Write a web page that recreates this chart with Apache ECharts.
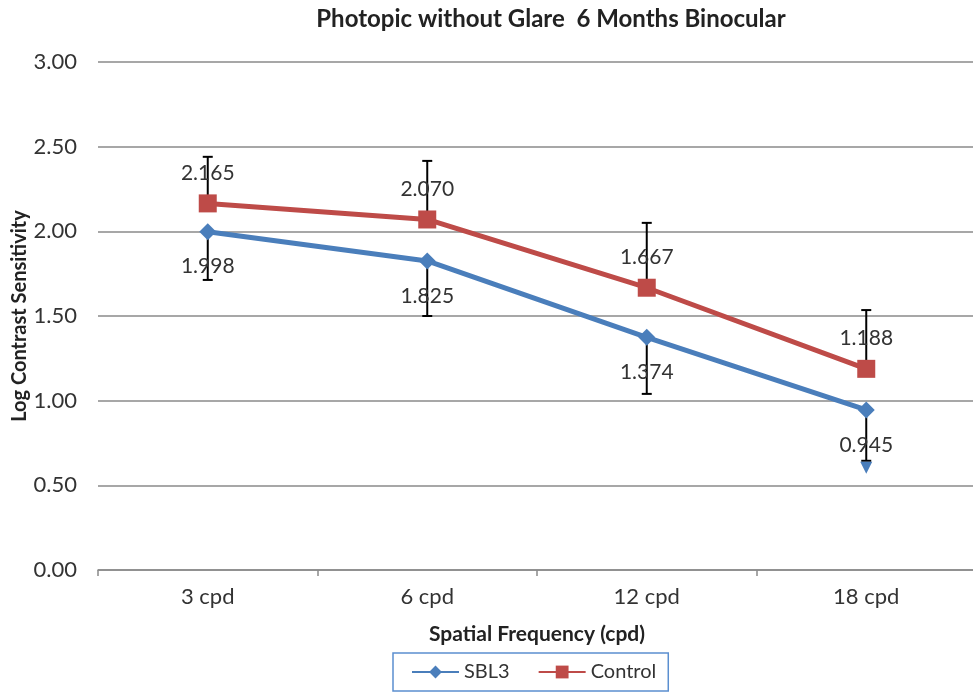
<!DOCTYPE html>
<html>
<head>
<meta charset="utf-8">
<script src="https://cdn.jsdelivr.net/npm/echarts@6/dist/echarts.min.js"></script>
<style>
html,body{margin:0;padding:0;background:#fff;}
#chart{width:973px;height:694px;}
</style>
</head>
<body>
<div id="chart"></div>
<script>
var categories = ['3 cpd', '6 cpd', '12 cpd', '18 cpd'];
var sbl3Values = [1.998, 1.825, 1.374, 0.945];
var controlValues = [2.165, 2.070, 1.667, 1.188];
var sbl3Lower = [1.713, 1.50, 1.04, 0.645];
var controlUpper = [2.44, 2.416, 2.05, 1.535];
var yTicks = [0, 0.5, 1, 1.5, 2, 2.5, 3];

var FONT = 'Lato';
var BLUE = '#4a7ebb';
var RED = '#be4b48';

function errorRender(values, ends, arrowIdx) {
  return function (params, api) {
    var i = params.dataIndex;
    var p0 = api.coord([i, values[i]]);
    var p1 = api.coord([i, ends[i]]);
    var cap = 5;
    var children = [
      { type: 'line', shape: { x1: p0[0], y1: p0[1], x2: p1[0], y2: p1[1] }, style: { stroke: '#000', lineWidth: 2 } },
      { type: 'line', shape: { x1: p1[0] - cap, y1: p1[1], x2: p1[0] + cap, y2: p1[1] }, style: { stroke: '#000', lineWidth: 2 } }
    ];
    if (arrowIdx === i) {
      children.push({ type: 'polygon', shape: { points: [[p1[0] - 6, p1[1] + 1], [p1[0] + 6, p1[1] + 1], [p1[0], p1[1] + 13]] }, style: { fill: BLUE } });
    }
    return { type: 'group', children: children };
  };
}

var chart = echarts.init(document.getElementById('chart'));
chart.setOption({
  animation: false,
  backgroundColor: '#fff',
  title: {
    text: 'Photopic without Glare  6 Months Binocular',
    left: 546, top: 2, textAlign: 'center',
    textStyle: { fontFamily: FONT, fontSize: 24, fontWeight: 'bold', color: '#222' }
  },
  legend: {
    data: ['SBL3', 'Control'],
    left: 393, bottom: 3,
    itemWidth: 47, itemHeight: 16, itemGap: 28,
    padding: [9, 12, 9, 18],
    borderColor: '#5b8fd0', borderWidth: 1.5,
    textStyle: { fontFamily: FONT, fontSize: 20, color: '#333' }
  },
  grid: { left: 98, top: 62, width: 878, height: 508, containLabel: false, outerBoundsMode: 'none' },
  xAxis: {
    type: 'category',
    data: categories,
    boundaryGap: true,
    name: 'Spatial Frequency (cpd)',
    nameLocation: 'middle',
    nameGap: 54,
    nameMoveOverlap: false,
    nameTextStyle: { fontFamily: FONT, fontSize: 21, fontWeight: 'bold', color: '#222' },
    axisLine: { lineStyle: { color: '#8a8a8a', width: 1.5 } },
    axisTick: { show: true, length: 6, lineStyle: { color: '#8a8a8a', width: 1.5 } },
    axisLabel: { fontFamily: FONT, fontSize: 22, color: '#333', margin: 16 }
  },
  yAxis: {
    type: 'value',
    min: 0, max: 3, interval: 0.5,
    name: 'Log Contrast Sensitivity',
    nameLocation: 'middle',
    nameGap: 68,
    nameMoveOverlap: false,
    nameTextStyle: { fontFamily: FONT, fontSize: 20, fontWeight: 'bold', color: '#222' },
    axisLine: { show: false },
    axisTick: { show: false },
    splitLine: { lineStyle: { color: '#8a8a8a', width: 1.5 } },
    axisLabel: {
      fontFamily: FONT, fontSize: 22, color: '#333', margin: 21,
      formatter: function (v) { return yTicks.indexOf(v) >= 0 ? v.toFixed(2) : ''; }
    }
  },
  series: [
    {
      type: 'custom', name: 'errCtrl', z: 1,
      data: controlValues.map(function (v, i) { return [i, v]; }),
      renderItem: errorRender(controlValues, controlUpper, -1),
      silent: true
    },
    {
      type: 'custom', name: 'errSbl', z: 1,
      data: sbl3Values.map(function (v, i) { return [i, v]; }),
      renderItem: errorRender(sbl3Values, sbl3Lower, 3),
      silent: true
    },
    {
      name: 'SBL3', type: 'line', z: 3,
      data: sbl3Values,
      symbol: 'diamond', symbolSize: 17,
      lineStyle: { color: BLUE, width: 5 },
      itemStyle: { color: BLUE },
      label: {
        show: true, position: 'bottom', distance: 16,
        fontFamily: FONT, fontSize: 21, color: '#333',
        formatter: function (p) { return p.value.toFixed(3); }
      }
    },
    {
      name: 'Control', type: 'line', z: 3,
      data: controlValues,
      symbol: 'rect', symbolSize: 18,
      lineStyle: { color: RED, width: 5 },
      itemStyle: { color: RED },
      label: {
        show: true, position: 'top', distance: 11,
        fontFamily: FONT, fontSize: 21, color: '#333',
        formatter: function (p) { return p.value.toFixed(3); }
      }
    }
  ]
});
</script>
</body>
</html>
